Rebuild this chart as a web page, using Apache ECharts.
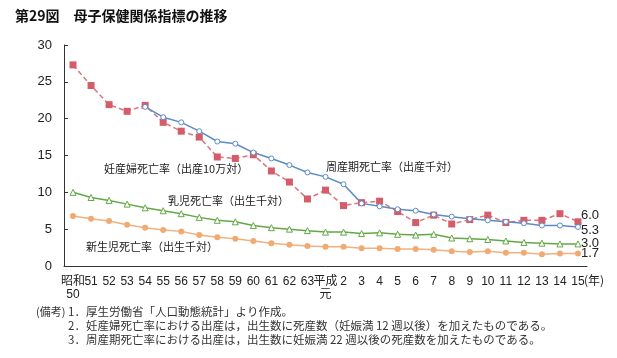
<!DOCTYPE html>
<html><head><meta charset="utf-8">
<script src="https://cdn.jsdelivr.net/npm/echarts@6/dist/echarts.min.js"></script>
<style>html,body{margin:0;padding:0;background:#fff}#c{width:617px;height:358px}</style>
</head><body><div id="c"></div>
<script>
var categories = ['昭和\n50','51','52','53','54','55','56','57','58','59','60','61','62','63','平成\n元','2','3','4','5','6','7','8','9','10','11','12','13','14','15'];
var maternal = [27.3,24.5,21.9,21.0,21.8,19.5,18.3,17.5,14.8,14.6,15.1,12.9,11.4,9.1,10.3,8.2,8.6,8.8,7.4,5.9,6.9,5.7,6.3,6.9,5.9,6.2,6.2,7.1,6.0];
var perinatal = [null,null,null,null,21.6,20.2,19.5,18.3,16.9,16.6,15.4,14.6,13.7,12.7,12.1,11.1,8.5,8.1,7.7,7.5,7.0,6.7,6.4,6.2,6.0,5.8,5.5,5.5,5.3];
var infant = [10.0,9.3,8.9,8.4,7.9,7.5,7.1,6.6,6.2,6.0,5.5,5.2,5.0,4.8,4.6,4.6,4.4,4.5,4.3,4.2,4.3,3.8,3.7,3.6,3.4,3.2,3.1,3.0,3.0];
var neonatal = [6.8,6.4,6.1,5.6,5.2,4.9,4.7,4.2,3.9,3.7,3.4,3.1,2.9,2.7,2.6,2.6,2.4,2.4,2.3,2.3,2.2,2.0,1.9,2.0,1.8,1.8,1.6,1.7,1.7];
var yTicks = [0,5,10,15,20,25,30];

var chart = echarts.init(document.getElementById('c'));
var font = '"Liberation Sans", Arial, "Noto Sans CJK JP", sans-serif';
var cjk = '"Noto Sans CJK JP", sans-serif';
function endLbl(off){
  return {show:true, formatter:function(p){return Number(p.value).toFixed(1);}, offset:off, distance:3, color:'#222', fontSize:13, fontFamily:font};
}
chart.setOption({
  animation:false,
  textStyle:{fontFamily:font},
  grid:{left:64,right:30,top:45,bottom:92},
  xAxis:{type:'category', data:categories, boundaryGap:true,
    axisLine:{lineStyle:{color:'#333',width:1}},
    axisTick:{inside:true,length:4,lineStyle:{color:'#333'}},
    axisLabel:{color:'#222',fontSize:12,margin:9,interval:0,lineHeight:13,fontFamily:font}},
  yAxis:{type:'value', min:yTicks[0], max:yTicks[yTicks.length-1], interval:5,
    splitLine:{show:false},
    axisLine:{show:true,lineStyle:{color:'#333',width:1}},
    axisTick:{show:true,inside:true,length:4,lineStyle:{color:'#333'}},
    axisLabel:{color:'#222',fontSize:13,margin:12,fontFamily:font}},
  series:[
    {name:'妊産婦死亡率', type:'line', data:maternal, symbol:'rect', symbolSize:7,
     lineStyle:{color:'#d9767e',width:1.5,type:[5,3]}, itemStyle:{color:'#d45d69',borderWidth:0},
     endLabel:endLbl([0,-6])},
    {name:'周産期死亡率', type:'line', data:perinatal, symbol:'circle', symbolSize:5,
     lineStyle:{color:'#5b8bc8',width:1.5}, itemStyle:{color:'#fff',borderColor:'#5b8bc8',borderWidth:1},
     endLabel:endLbl([0,3])},
    {name:'乳児死亡率', type:'line', data:infant, symbol:'triangle', symbolSize:6,
     lineStyle:{color:'#63a845',width:1.5}, itemStyle:{color:'#fff',borderColor:'#63a845',borderWidth:1},
     endLabel:endLbl([0,0])},
    {name:'新生児死亡率', type:'line', data:neonatal, symbol:'circle', symbolSize:6,
     lineStyle:{color:'#f2b07e',width:1.5}, itemStyle:{color:'#f0aa72',borderWidth:0},
     endLabel:endLbl([0,0])}
  ],
  graphic:[
    {type:'text', left:15, top:9, style:{text:'第29図　母子保健関係指標の推移', fontSize:14, fontWeight:'bold', fill:'#111', fontFamily:cjk}},
    {type:'text', left:104, top:163, style:{text:'妊産婦死亡率（出産10万対）', fontSize:11, fill:'#222', fontFamily:cjk}},
    {type:'text', left:326, top:161, style:{text:'周産期死亡率（出産千対）', fontSize:11, fill:'#222', fontFamily:cjk}},
    {type:'text', left:168, top:195, style:{text:'乳児死亡率（出生千対）', fontSize:11, fill:'#222', fontFamily:cjk}},
    {type:'text', left:86, top:241, style:{text:'新生児死亡率（出生千対）', fontSize:11, fill:'#222', fontFamily:cjk}},
    {type:'text', left:584, top:274, style:{text:'(年)', fontSize:12, fill:'#222', fontFamily:cjk}},
    {type:'text', left:36, top:306, style:{text:'(備考)', fontSize:11, fill:'#333', fontFamily:cjk}},
    {type:'text', left:68, top:306, style:{text:'1．厚生労働省「人口動態統計」より作成。', fontSize:11.5, fill:'#333', fontFamily:cjk}},
    {type:'text', left:68, top:320, style:{text:'2．妊産婦死亡率における出産は，出生数に死産数（妊娠満 12 週以後）を加えたものである。', fontSize:11.5, fill:'#333', fontFamily:cjk}},
    {type:'text', left:68, top:334, style:{text:'3．周産期死亡率における出産は，出生数に妊娠満 22 週以後の死産数を加えたものである。', fontSize:11.5, fill:'#333', fontFamily:cjk}}
  ]
});
</script></body></html>
